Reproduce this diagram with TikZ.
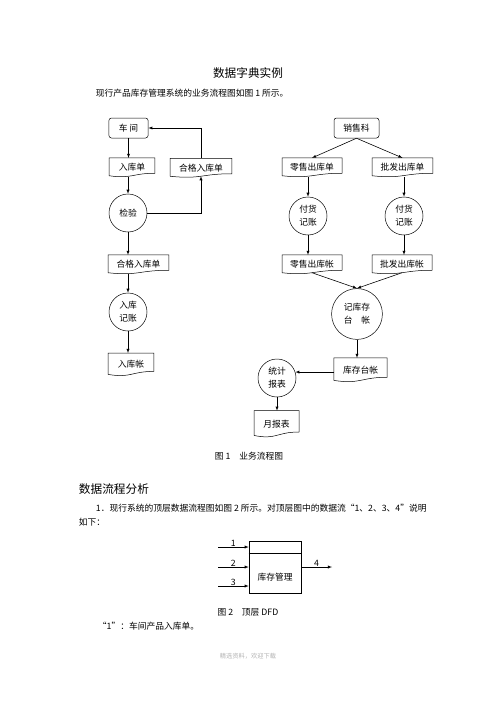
\documentclass[tikz,border=0pt]{standalone}
\usepackage{fontspec}
\setmainfont{Noto Sans CJK SC}
\usetikzlibrary{calc}

\begin{document}
\begin{tikzpicture}[x=1.2pt,y=-1.2pt,>=latex,
    every node/.style={font=\fontsize{10.5pt}{15.6pt}\selectfont},
    src/.style={draw,rounded corners=3pt,minimum height=24pt,inner sep=0pt,line width=0.6pt},
    doc/.style={minimum height=23pt,inner sep=0pt,outer sep=0pt},
    proc/.style={circle,draw,minimum size=45.6pt,inner sep=0pt,align=center,line width=0.6pt},
    flow/.style={->,line width=0.7pt},
    outline/.style={line width=0.6pt}]
  \useasboundingbox (0,0) rectangle (496,702);

  % texts of the page
  \node (title) at (248,73) {\fontsize{14pt}{16pt}\selectfont 数据字典实例};
  \node[anchor=west] (intro) at (93,93) {现行产品库存管理系统的业务流程图如图 1 所示。};

  % left part
  \node[src,minimum width=47pt] (cj) at (128.5,128) {车 间};
  \node[doc,minimum width=55pt] (rkd) at (132,167.5) {入库单};
  \node[doc,minimum width=74pt] (hgda) at (201,168) {合格入库单};
  \node[proc] (jy) at (128,213) {检验};
  \node[doc,minimum width=73pt] (hgdb) at (138.5,264.5) {合格入库单};
  \node[proc] (rkjz) at (128,312) {入库\\记账};
  \node[doc,minimum width=55pt,minimum height=27.6pt] (rkz) at (131,364.5) {入库帐};

  % right part
  \node[src,minimum width=54pt] (xsk) at (356.5,128) {销售科};
  \node[doc,minimum width=72pt] (lsd) at (312,167.5) {零售出库单};
  \node[doc,minimum width=73pt] (pfd) at (402.5,167.5) {批发出库单};
  \node[proc] (fha) at (308,216) {付货\\记账};
  \node[proc] (fhb) at (404,216) {付货\\记账};
  \node[doc,minimum width=72pt] (lsz) at (312,264.5) {零售出库帐};
  \node[doc,minimum width=72pt] (pfz) at (402,264.5) {批发出库帐};
  \node[proc,minimum size=61pt] (jkc) at (357,314) {记库存\\台\hspace{1em}帐};
  \node[doc,minimum width=64pt,minimum height=29pt] (kctz) at (360.5,370) {库存台帐};
  \node[proc] (tjbb) at (277,378) {统计\\报表};
  \node[doc,minimum width=54pt,minimum height=32pt] (ybb) at (276.5,424) {月报表};

  % document outlines
  \foreach \n in {rkd,hgda,hgdb,rkz,lsd,pfd,lsz,pfz,kctz,ybb}
    \draw[outline] (\n.north west) -- (\n.north east)
      -- ($(\n.north east)!0.8!(\n.south east)$)
      .. controls ($(\n.north)!0.8!(\n.south)$) and ($(\n.north)!1.1!(\n.south)$)
      .. ($(\n.north west)!0.93!(\n.south west)$) -- cycle;

  % flows, left
  \draw[flow] (cj.south) -- (cj.south |- rkd.north);
  \draw[flow] (jy |- rkd.south) -- (jy.north);
  \draw[flow] (jy.east) -| ($(hgda.north)!0.93!(hgda.south)$);
  \draw[flow] (hgda.north) |- (cj.east);
  \draw[flow] (jy.south) -- (jy.south |- hgdb.north);
  \draw[flow] (rkjz |- hgdb.south) -- (rkjz.north);
  \draw[flow] (rkjz.south) -- (rkjz.south |- rkz.north);

  % flows, right
  \draw[flow] (xsk.south) -- (lsd.north);
  \draw[flow] (xsk.south) -- (pfd.north);
  \draw[flow] (fha |- lsd.south) -- (fha.north);
  \draw[flow] (fhb |- pfd.south) -- (fhb.north);
  \draw[flow] (fha.south) -- (fha.south |- lsz.north);
  \draw[flow] (fhb.south) -- (fhb.south |- pfz.north);
  \draw[flow] ($(lsz.north)!0.93!(lsz.south)$) -- (jkc.north);
  \draw[flow] ($(pfz.north)!0.93!(pfz.south)$) -- (jkc.north);
  \draw[flow] (jkc.south) -- (jkc.south |- kctz.north);
  \draw[flow] (tjbb.18 -| kctz.west) -- (tjbb.18);
  \draw[flow] (tjbb.south) -- (tjbb.south |- ybb.north);

  \node (capa) at (249,456) {图 1\quad 业务流程图};

  % second part of the page
  \node[anchor=west] (headb) at (76,489) {\fontsize{14pt}{16pt}\selectfont 数据流程分析};
  \node[anchor=west] (para) at (93,508) {1．现行系统的顶层数据流程图如图 2 所示。对顶层图中的数据流“1、2、3、4”说明};
  \node[anchor=west] (parb) at (76,522) {如下：};

  % top level DFD
  \node[draw,line width=0.7pt,minimum size=62.4pt,inner sep=0pt] (dfd) at (275,567) {};
  \draw[line width=0.7pt] ([yshift=-15.6pt]dfd.north west) -- ([yshift=-15.6pt]dfd.north east);
  \node (dfdn) at (275,577) {库存管理};
  \coordinate (ia) at (218,547);
  \coordinate (ib) at (218,567);
  \coordinate (ic) at (218,586);
  \coordinate (od) at (332,567);
  \draw[flow] (ia) -- (ia -| dfd.west) node[midway,above,inner sep=0.5pt] {1};
  \draw[flow] (ib) -- (ib -| dfd.west) node[midway,above,inner sep=0.5pt] {2};
  \draw[flow] (ic) -- (ic -| dfd.west) node[midway,above,inner sep=0.5pt] {3};
  \draw[flow] (dfd.east) -- (od) node[midway,above,inner sep=0.5pt] {4};

  \node (capb) at (248,612) {图 2\quad 顶层 DFD};
  \node[anchor=west] (note) at (95,626) {“1”：车间产品入库单。};
  \node[text=black!30] (foot) at (248,656) {\fontsize{7.5pt}{9pt}\selectfont 精选资料，欢迎下载};
\end{tikzpicture}
\end{document}
